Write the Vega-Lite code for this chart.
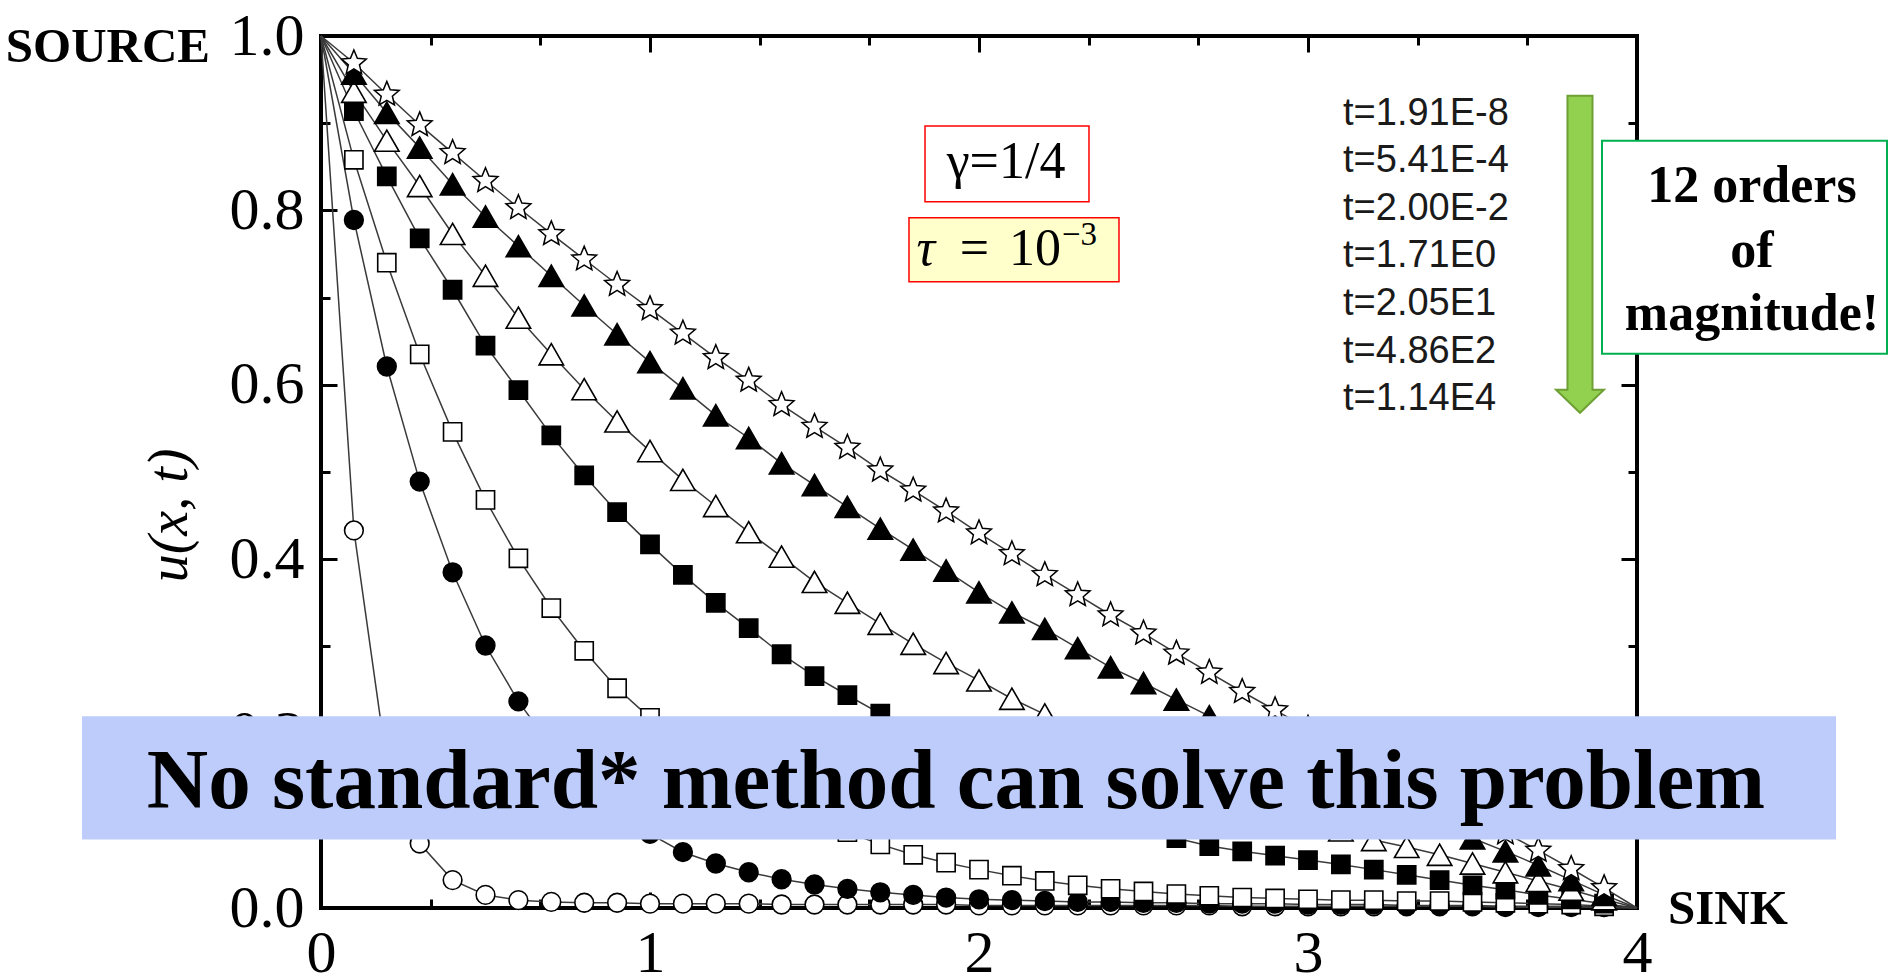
{
  "$schema": "https://vega.github.io/schema/vega-lite/v6.json",
  "width": 1316,
  "height": 872,
  "autosize": {"type": "none"},
  "padding": {"left": 321, "top": 36, "right": 266, "bottom": 72},
  "background": "white",
  "config": {"view": {"stroke": "#000", "strokeWidth": 4}},
  "datasets": {
    "curves": [
      {"x": 0.0, "s1": 1, "s2": 1, "s3": 1, "s4": 1, "s5": 1, "s6": 1, "s7": 1},
      {"x": 0.1, "s1": 0.433, "s2": 0.789, "s3": 0.858, "s4": 0.914, "s5": 0.936, "s6": 0.957, "s7": 0.969},
      {"x": 0.2, "s1": 0.165, "s2": 0.621, "s3": 0.740, "s4": 0.839, "s5": 0.880, "s6": 0.912, "s7": 0.933},
      {"x": 0.3, "s1": 0.074, "s2": 0.489, "s3": 0.635, "s4": 0.768, "s5": 0.828, "s6": 0.872, "s7": 0.898},
      {"x": 0.4, "s1": 0.032, "s2": 0.385, "s3": 0.546, "s4": 0.709, "s5": 0.773, "s6": 0.830, "s7": 0.866},
      {"x": 0.5, "s1": 0.015, "s2": 0.301, "s3": 0.468, "s4": 0.645, "s5": 0.725, "s6": 0.793, "s7": 0.834},
      {"x": 0.6, "s1": 0.009, "s2": 0.237, "s3": 0.401, "s4": 0.594, "s5": 0.677, "s6": 0.759, "s7": 0.803},
      {"x": 0.7, "s1": 0.007, "s2": 0.185, "s3": 0.344, "s4": 0.542, "s5": 0.635, "s6": 0.725, "s7": 0.773},
      {"x": 0.8, "s1": 0.006, "s2": 0.145, "s3": 0.295, "s4": 0.496, "s5": 0.595, "s6": 0.691, "s7": 0.744},
      {"x": 0.9, "s1": 0.006, "s2": 0.112, "s3": 0.252, "s4": 0.454, "s5": 0.558, "s6": 0.658, "s7": 0.715},
      {"x": 1.0, "s1": 0.005, "s2": 0.085, "s3": 0.218, "s4": 0.417, "s5": 0.524, "s6": 0.626, "s7": 0.687},
      {"x": 1.1, "s1": 0.005, "s2": 0.064, "s3": 0.188, "s4": 0.382, "s5": 0.491, "s6": 0.596, "s7": 0.659},
      {"x": 1.2, "s1": 0.005, "s2": 0.051, "s3": 0.162, "s4": 0.350, "s5": 0.461, "s6": 0.565, "s7": 0.631},
      {"x": 1.3, "s1": 0.005, "s2": 0.041, "s3": 0.140, "s4": 0.321, "s5": 0.431, "s6": 0.539, "s7": 0.605},
      {"x": 1.4, "s1": 0.004, "s2": 0.033, "s3": 0.120, "s4": 0.291, "s5": 0.403, "s6": 0.510, "s7": 0.577},
      {"x": 1.5, "s1": 0.004, "s2": 0.027, "s3": 0.103, "s4": 0.266, "s5": 0.374, "s6": 0.485, "s7": 0.552},
      {"x": 1.6, "s1": 0.004, "s2": 0.022, "s3": 0.087, "s4": 0.244, "s5": 0.350, "s6": 0.460, "s7": 0.528},
      {"x": 1.7, "s1": 0.004, "s2": 0.018, "s3": 0.073, "s4": 0.223, "s5": 0.326, "s6": 0.435, "s7": 0.502},
      {"x": 1.8, "s1": 0.004, "s2": 0.015, "s3": 0.061, "s4": 0.203, "s5": 0.303, "s6": 0.411, "s7": 0.479},
      {"x": 1.9, "s1": 0.004, "s2": 0.012, "s3": 0.052, "s4": 0.183, "s5": 0.281, "s6": 0.387, "s7": 0.455},
      {"x": 2.0, "s1": 0.003, "s2": 0.010, "s3": 0.044, "s4": 0.165, "s5": 0.261, "s6": 0.362, "s7": 0.430},
      {"x": 2.1, "s1": 0.003, "s2": 0.009, "s3": 0.037, "s4": 0.147, "s5": 0.240, "s6": 0.339, "s7": 0.406},
      {"x": 2.2, "s1": 0.003, "s2": 0.008, "s3": 0.031, "s4": 0.131, "s5": 0.222, "s6": 0.320, "s7": 0.382},
      {"x": 2.3, "s1": 0.003, "s2": 0.007, "s3": 0.026, "s4": 0.116, "s5": 0.204, "s6": 0.298, "s7": 0.359},
      {"x": 2.4, "s1": 0.003, "s2": 0.007, "s3": 0.022, "s4": 0.103, "s5": 0.187, "s6": 0.276, "s7": 0.336},
      {"x": 2.5, "s1": 0.003, "s2": 0.006, "s3": 0.019, "s4": 0.091, "s5": 0.171, "s6": 0.258, "s7": 0.315},
      {"x": 2.6, "s1": 0.003, "s2": 0.006, "s3": 0.016, "s4": 0.080, "s5": 0.155, "s6": 0.239, "s7": 0.292},
      {"x": 2.7, "s1": 0.003, "s2": 0.005, "s3": 0.014, "s4": 0.071, "s5": 0.140, "s6": 0.220, "s7": 0.270},
      {"x": 2.8, "s1": 0.002, "s2": 0.005, "s3": 0.012, "s4": 0.065, "s5": 0.126, "s6": 0.202, "s7": 0.248},
      {"x": 2.9, "s1": 0.002, "s2": 0.005, "s3": 0.011, "s4": 0.060, "s5": 0.113, "s6": 0.184, "s7": 0.227},
      {"x": 3.0, "s1": 0.002, "s2": 0.004, "s3": 0.010, "s4": 0.055, "s5": 0.101, "s6": 0.166, "s7": 0.206},
      {"x": 3.1, "s1": 0.002, "s2": 0.004, "s3": 0.009, "s4": 0.050, "s5": 0.089, "s6": 0.148, "s7": 0.186},
      {"x": 3.2, "s1": 0.002, "s2": 0.004, "s3": 0.009, "s4": 0.044, "s5": 0.078, "s6": 0.131, "s7": 0.166},
      {"x": 3.3, "s1": 0.002, "s2": 0.003, "s3": 0.008, "s4": 0.038, "s5": 0.070, "s6": 0.113, "s7": 0.146},
      {"x": 3.4, "s1": 0.002, "s2": 0.003, "s3": 0.008, "s4": 0.032, "s5": 0.061, "s6": 0.097, "s7": 0.126},
      {"x": 3.5, "s1": 0.002, "s2": 0.003, "s3": 0.007, "s4": 0.026, "s5": 0.051, "s6": 0.080, "s7": 0.106},
      {"x": 3.6, "s1": 0.001, "s2": 0.002, "s3": 0.006, "s4": 0.021, "s5": 0.041, "s6": 0.065, "s7": 0.086},
      {"x": 3.7, "s1": 0.001, "s2": 0.002, "s3": 0.005, "s4": 0.015, "s5": 0.031, "s6": 0.049, "s7": 0.066},
      {"x": 3.8, "s1": 0.001, "s2": 0.002, "s3": 0.004, "s4": 0.010, "s5": 0.021, "s6": 0.032, "s7": 0.045},
      {"x": 3.9, "s1": 0.001, "s2": 0.001, "s3": 0.002, "s4": 0.005, "s5": 0.010, "s6": 0.015, "s7": 0.023},
      {"x": 4.0, "s1": 0, "s2": 0, "s3": 0, "s4": 0, "s5": 0, "s6": 0, "s7": 0}
    ],
    "legendLabels": [
      {"label": "t=1.91E-8", "y": 0.8984},
      {"label": "t=5.41E-4", "y": 0.8443},
      {"label": "t=2.00E-2", "y": 0.7892},
      {"label": "t=1.71E0", "y": 0.7354},
      {"label": "t=2.05E1", "y": 0.6803},
      {"label": "t=4.86E2", "y": 0.6252},
      {"label": "t=1.14E4", "y": 0.5712}
    ],
    "boxLines": [
      {"label": "12 orders", "y": 0.8100},
      {"label": "of", "y": 0.7354},
      {"label": "magnitude!", "y": 0.6631}
    ]
  },
  "resolve": {"axis": {"x": "independent", "y": "independent"}},
  "layer": [
    {
      "data": {"name": "curves"},
      "transform": [{"fold": ["s1", "s2", "s3", "s4", "s5", "s6", "s7"], "as": ["series", "u"]}],
      "mark": {"type": "line", "stroke": "#3a3a3a", "strokeWidth": 1.5},
      "encoding": {
        "x": {"field": "x", "type": "quantitative", "scale": {"domain": [0, 4], "nice": false, "zero": false},
          "axis": {"orient": "bottom", "values": [0, 1, 2, 3, 4], "format": "d", "ticks": false, "domain": false, "grid": false,
            "labelFont": "Liberation Serif", "labelFontSize": 60, "labelColor": "#000", "labelPadding": 16, "labelFlush": false, "title": null}},
        "y": {"field": "u", "type": "quantitative", "scale": {"domain": [0, 1], "nice": false, "zero": false},
          "axis": {"orient": "left", "values": [0, 0.2, 0.4, 0.6, 0.8, 1], "format": ".1f", "ticks": false, "domain": false, "grid": false,
            "labelFont": "Liberation Serif", "labelFontSize": 60, "labelColor": "#000", "labelPadding": 17, "labelFlush": false,
            "title": "u(x, t)", "titleFont": "Liberation Serif", "titleFontStyle": "italic", "titleFontWeight": "normal", "titleFontSize": 56,
            "titleColor": "#000", "titleX": -152, "titleY": 479, "titleBaseline": "middle"}},
        "detail": {"field": "series"}
      }
    },
    {
      "data": {"name": "curves"},
      "transform": [
        {"fold": ["s1", "s2"], "as": ["series", "u"]},
        {"filter": "datum.x > 0.05 && datum.x < 3.95"}
      ],
      "mark": {"type": "point", "shape": "circle", "size": 350, "filled": true, "stroke": "#000", "strokeWidth": 1.6, "opacity": 1},
      "encoding": {
        "x": {"field": "x", "type": "quantitative", "scale": {"domain": [0, 4], "nice": false, "zero": false},
          "axis": {"orient": "bottom", "values": [0, 1, 2, 3, 4], "labels": false, "domain": false, "grid": false, "ticks": true,
            "tickSize": -16, "tickWidth": 3, "tickColor": "#000", "title": null}},
        "y": {"field": "u", "type": "quantitative", "scale": {"domain": [0, 1], "nice": false, "zero": false},
          "axis": {"orient": "left", "values": [0.2, 0.4, 0.6, 0.8], "labels": false, "domain": false, "grid": false, "ticks": true,
            "tickSize": -16, "tickWidth": 3, "tickColor": "#000", "title": null}},
        "fill": {"field": "series", "type": "nominal", "legend": null,
          "scale": {"domain": ["s1", "s2", "s3", "s4", "s5", "s6", "s7"],
            "range": ["#ffffff", "#000000", "#ffffff", "#000000", "#ffffff", "#000000", "#ffffff"]}}
      }
    },
    {
      "data": {"name": "curves"},
      "transform": [
        {"fold": ["s3", "s4"], "as": ["series", "u"]},
        {"filter": "datum.x > 0.05 && datum.x < 3.95"}
      ],
      "mark": {"type": "point", "shape": "square", "size": 330, "filled": true, "stroke": "#000", "strokeWidth": 1.6, "opacity": 1},
      "encoding": {
        "x": {"field": "x", "type": "quantitative", "scale": {"domain": [0, 4], "nice": false, "zero": false}, "axis": null},
        "y": {"field": "u", "type": "quantitative", "scale": {"domain": [0, 1], "nice": false, "zero": false}, "axis": null},
        "fill": {"field": "series", "type": "nominal", "legend": null,
          "scale": {"domain": ["s1", "s2", "s3", "s4", "s5", "s6", "s7"],
            "range": ["#ffffff", "#000000", "#ffffff", "#000000", "#ffffff", "#000000", "#ffffff"]}}
      }
    },
    {
      "data": {"name": "curves"},
      "transform": [
        {"fold": ["s5", "s6"], "as": ["series", "u"]},
        {"filter": "datum.x > 0.05 && datum.x < 3.95"}
      ],
      "mark": {"type": "point", "shape": "triangle-up", "size": 600, "filled": true, "stroke": "#000", "strokeWidth": 1.6, "opacity": 1},
      "encoding": {
        "x": {"field": "x", "type": "quantitative", "scale": {"domain": [0, 4], "nice": false, "zero": false}, "axis": null},
        "y": {"field": "u", "type": "quantitative", "scale": {"domain": [0, 1], "nice": false, "zero": false}, "axis": null},
        "fill": {"field": "series", "type": "nominal", "legend": null,
          "scale": {"domain": ["s1", "s2", "s3", "s4", "s5", "s6", "s7"],
            "range": ["#ffffff", "#000000", "#ffffff", "#000000", "#ffffff", "#000000", "#ffffff"]}}
      }
    },
    {
      "data": {"name": "curves"},
      "transform": [
        {"fold": ["s7"], "as": ["series", "u"]},
        {"filter": "datum.x > 0.05 && datum.x < 3.95"}
      ],
      "mark": {"type": "point", "size": 680, "filled": true, "fill": "#ffffff", "stroke": "#000", "strokeWidth": 1.5, "opacity": 1,
        "shape": "M0,-1L0.2645,-0.364L0.951,-0.309L0.428,0.139L0.588,0.809L0,0.45L-0.588,0.809L-0.428,0.139L-0.951,-0.309L-0.2645,-0.364Z"},
      "encoding": {
        "x": {"field": "x", "type": "quantitative", "scale": {"domain": [0, 4], "nice": false, "zero": false}, "axis": null},
        "y": {"field": "u", "type": "quantitative", "scale": {"domain": [0, 1], "nice": false, "zero": false}, "axis": null}
      }
    },
    {
      "data": {"values": [{"x": 0, "u": 0}]},
      "mark": {"type": "point", "opacity": 0},
      "encoding": {
        "x": {"field": "x", "type": "quantitative", "scale": {"domain": [0, 4], "nice": false, "zero": false},
          "axis": {"orient": "bottom", "values": [0.3333, 0.6667, 1.3333, 1.6667, 2.3333, 2.6667, 3.3333, 3.6667], "labels": false, "domain": false, "grid": false,
            "ticks": true, "tickSize": -9, "tickWidth": 3, "tickColor": "#000", "title": null}},
        "y": {"field": "u", "type": "quantitative", "scale": {"domain": [0, 1], "nice": false, "zero": false},
          "axis": {"orient": "left", "values": [0.1, 0.3, 0.5, 0.7, 0.9], "labels": false, "domain": false, "grid": false,
            "ticks": true, "tickSize": -9, "tickWidth": 3, "tickColor": "#000", "title": null}}
      }
    },
    {
      "data": {"values": [{"x": 0, "u": 0}]},
      "mark": {"type": "point", "opacity": 0},
      "encoding": {
        "x": {"field": "x", "type": "quantitative", "scale": {"domain": [0, 4], "nice": false, "zero": false},
          "axis": {"orient": "top", "values": [0, 1, 2, 3, 4], "labels": false, "domain": false, "grid": false,
            "ticks": true, "tickSize": -16, "tickWidth": 3, "tickColor": "#000", "title": null}},
        "y": {"field": "u", "type": "quantitative", "scale": {"domain": [0, 1], "nice": false, "zero": false},
          "axis": {"orient": "right", "values": [0.2, 0.4, 0.6, 0.8], "labels": false, "domain": false, "grid": false,
            "ticks": true, "tickSize": -16, "tickWidth": 3, "tickColor": "#000", "title": null}}
      }
    },
    {
      "data": {"values": [{"x": 0, "u": 0}]},
      "mark": {"type": "point", "opacity": 0},
      "encoding": {
        "x": {"field": "x", "type": "quantitative", "scale": {"domain": [0, 4], "nice": false, "zero": false},
          "axis": {"orient": "top", "values": [0.3333, 0.6667, 1.3333, 1.6667, 2.3333, 2.6667, 3.3333, 3.6667], "labels": false, "domain": false, "grid": false,
            "ticks": true, "tickSize": -9, "tickWidth": 3, "tickColor": "#000", "title": null}},
        "y": {"field": "u", "type": "quantitative", "scale": {"domain": [0, 1], "nice": false, "zero": false},
          "axis": {"orient": "right", "values": [0.1, 0.3, 0.5, 0.7, 0.9], "labels": false, "domain": false, "grid": false,
            "ticks": true, "tickSize": -9, "tickWidth": 3, "tickColor": "#000", "title": null}}
      }
    },
    {
      "data": {"values": [{}]},
      "mark": {"type": "rect", "fill": "#BDCCFB"},
      "encoding": {
        "x": {"datum": -0.7264, "axis": null}, "x2": {"datum": 4.6049},
        "y": {"datum": 0.2199, "axis": null}, "y2": {"datum": 0.0786}
      }
    },
    {
      "data": {"values": [{}]},
      "mark": {"type": "text", "text": "No standard* method can solve this problem", "font": "Liberation Serif", "fontWeight": "bold",
        "fontSize": 85, "align": "center", "baseline": "alphabetic", "fill": "#000"},
      "encoding": {"x": {"datum": 1.9301, "axis": null}, "y": {"datum": 0.1142, "axis": null}}
    },
    {
      "data": {"values": [{}]},
      "mark": {"type": "rect", "fill": "#ffffff", "stroke": "#FF0000", "strokeWidth": 1.5},
      "encoding": {
        "x": {"datum": 1.8359, "axis": null}, "x2": {"datum": 2.3343},
        "y": {"datum": 0.8967, "axis": null}, "y2": {"datum": 0.8100}
      }
    },
    {
      "data": {"values": [{}]},
      "mark": {"type": "text", "text": "γ=1/4", "font": "Liberation Serif", "fontSize": 52, "align": "center", "baseline": "alphabetic", "fill": "#000"},
      "encoding": {"x": {"datum": 2.0821, "axis": null}, "y": {"datum": 0.8375, "axis": null}}
    },
    {
      "data": {"values": [{}]},
      "mark": {"type": "rect", "fill": "#FFFFCC", "stroke": "#FF0000", "strokeWidth": 1.5},
      "encoding": {
        "x": {"datum": 1.7872, "axis": null}, "x2": {"datum": 2.4255},
        "y": {"datum": 0.7916, "axis": null}, "y2": {"datum": 0.7181}
      }
    },
    {
      "data": {"values": [{}]},
      "mark": {"type": "text", "text": "τ", "font": "Liberation Serif", "fontStyle": "italic", "fontSize": 52, "align": "left", "baseline": "alphabetic", "fill": "#000"},
      "encoding": {"x": {"datum": 1.8100, "axis": null}, "y": {"datum": 0.7377, "axis": null}}
    },
    {
      "data": {"values": [{}]},
      "mark": {"type": "text", "text": "=", "font": "Liberation Serif", "fontSize": 52, "align": "center", "baseline": "alphabetic", "fill": "#000"},
      "encoding": {"x": {"datum": 1.9863, "axis": null}, "y": {"datum": 0.7377, "axis": null}}
    },
    {
      "data": {"values": [{}]},
      "mark": {"type": "text", "text": "10", "font": "Liberation Serif", "fontSize": 52, "align": "right", "baseline": "alphabetic", "fill": "#000"},
      "encoding": {"x": {"datum": 2.2492, "axis": null}, "y": {"datum": 0.7377, "axis": null}}
    },
    {
      "data": {"values": [{}]},
      "mark": {"type": "text", "text": "−3", "font": "Liberation Serif", "fontSize": 33, "align": "left", "baseline": "alphabetic", "fill": "#000"},
      "encoding": {"x": {"datum": 2.2523, "axis": null}, "y": {"datum": 0.7606, "axis": null}}
    },
    {
      "data": {"name": "legendLabels"},
      "mark": {"type": "text", "font": "Liberation Sans", "fontSize": 38, "align": "left", "baseline": "alphabetic", "fill": "#1a1a1a"},
      "encoding": {
        "x": {"datum": 3.1064, "axis": null},
        "y": {"field": "y", "type": "quantitative", "axis": null},
        "text": {"field": "label"}
      }
    },
    {
      "data": {"values": [{}]},
      "mark": {"type": "point", "filled": true, "opacity": 1, "fill": "#92D050", "stroke": "#6FA035", "strokeWidth": 2, "size": 100489,
        "shape": "M-0.079,-1L0.079,-1L0.079,0.855L0.151,0.855L0,1L-0.151,0.855L-0.079,0.855Z"},
      "encoding": {"x": {"datum": 3.8267, "axis": null}, "y": {"datum": 0.7497, "axis": null}}
    },
    {
      "data": {"values": [{}]},
      "mark": {"type": "rect", "fill": "#ffffff", "stroke": "#00B050", "strokeWidth": 2},
      "encoding": {
        "x": {"datum": 3.8936, "axis": null}, "x2": {"datum": 4.7599},
        "y": {"datum": 0.8800, "axis": null}, "y2": {"datum": 0.6355}
      }
    },
    {
      "data": {"name": "boxLines"},
      "mark": {"type": "text", "font": "Liberation Serif", "fontWeight": "bold", "fontSize": 52, "align": "center", "baseline": "alphabetic", "fill": "#000"},
      "encoding": {
        "x": {"datum": 4.3495, "axis": null},
        "y": {"field": "y", "type": "quantitative", "axis": null},
        "text": {"field": "label"}
      }
    },
    {
      "data": {"values": [{}]},
      "mark": {"type": "text", "text": "SOURCE", "font": "Liberation Serif", "fontWeight": "bold", "fontSize": 49, "align": "right", "baseline": "alphabetic", "fill": "#000"},
      "encoding": {"x": {"datum": -0.3374, "axis": null}, "y": {"datum": 0.9707, "axis": null}}
    },
    {
      "data": {"values": [{}]},
      "mark": {"type": "text", "text": "SINK", "font": "Liberation Serif", "fontWeight": "bold", "fontSize": 49, "align": "left", "baseline": "alphabetic", "fill": "#000"},
      "encoding": {"x": {"datum": 4.0942, "axis": null}, "y": {"datum": -0.0178, "axis": null}}
    }
  ]
}
